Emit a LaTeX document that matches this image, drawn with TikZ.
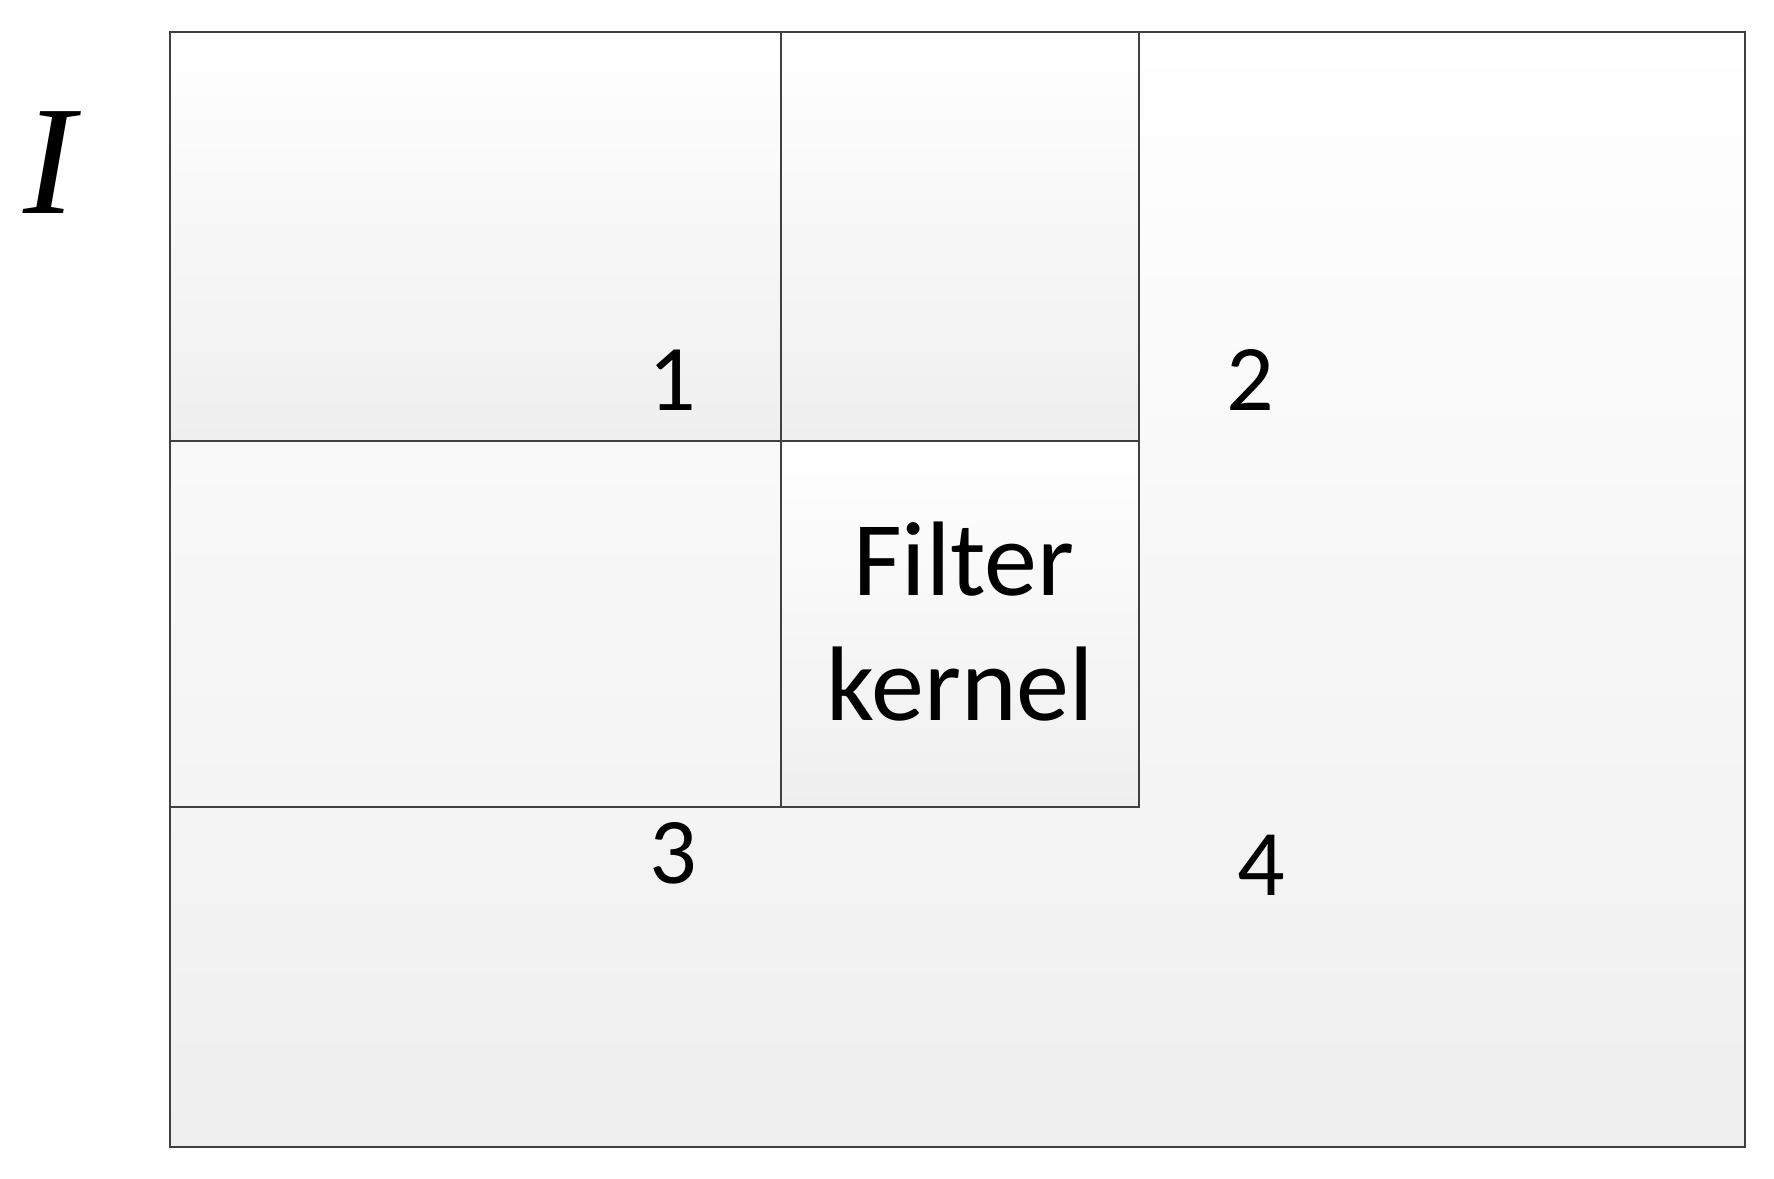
\documentclass[tikz,border=0pt]{standalone}
\usepackage{fontspec}
\setmainfont{Carlito}
\newfontfamily\iserif{Liberation Serif}
\definecolor{edgegray}{RGB}{64,64,64}
\definecolor{shadebot}{RGB}{239,239,239}
\tikzset{
  cellshade/.style={top color=white, bottom color=shadebot},
  outline/.style={draw=edgegray, line width=1.45pt},
  inline/.style={draw=edgegray, line width=1.3pt},
  numlabel/.style={anchor=base, inner sep=0pt, font=\fontsize{47}{58}\selectfont},
  kernlabel/.style={anchor=base, inner sep=0pt, font=\fontsize{53}{62}\selectfont},
}
\begin{document}
\begin{tikzpicture}[x=0.5pt,y=-0.5pt]
\useasboundingbox (0,0) rectangle (1774,1179);
% outer image I
\shade[cellshade] (170,32) rectangle (1745,1147);
% cells
\shade[cellshade] (170,32) rectangle (781,441);
\shade[cellshade] (781,32) rectangle (1139,441);
\shade[cellshade] (781,441) rectangle (1139,807);
\draw[inline] (170,32) rectangle (781,441);
\draw[inline] (781,32) rectangle (1139,441);
\draw[inline] (170,441) rectangle (781,807);
\draw[inline] (781,441) rectangle (1139,807);
\draw[outline] (170,32) rectangle (1745,1147);
% labels
\node[anchor=base, inner sep=0pt, font=\fontsize{77.8}{90}\selectfont\iserif\itshape] (ilabel) at (49,213) {I};
\node[numlabel] (n1) at (672,410) {1};
\node[numlabel] (n2) at (1250,410) {2};
\node[numlabel] (n3) at (673.5,883) {3};
\node[numlabel] (n4) at (1261,895) {4};
\node[kernlabel] (kf1) at (964,595) {Filter};
\node[kernlabel] (kf2) at (960,720) {kernel};
\end{tikzpicture}
\end{document}
